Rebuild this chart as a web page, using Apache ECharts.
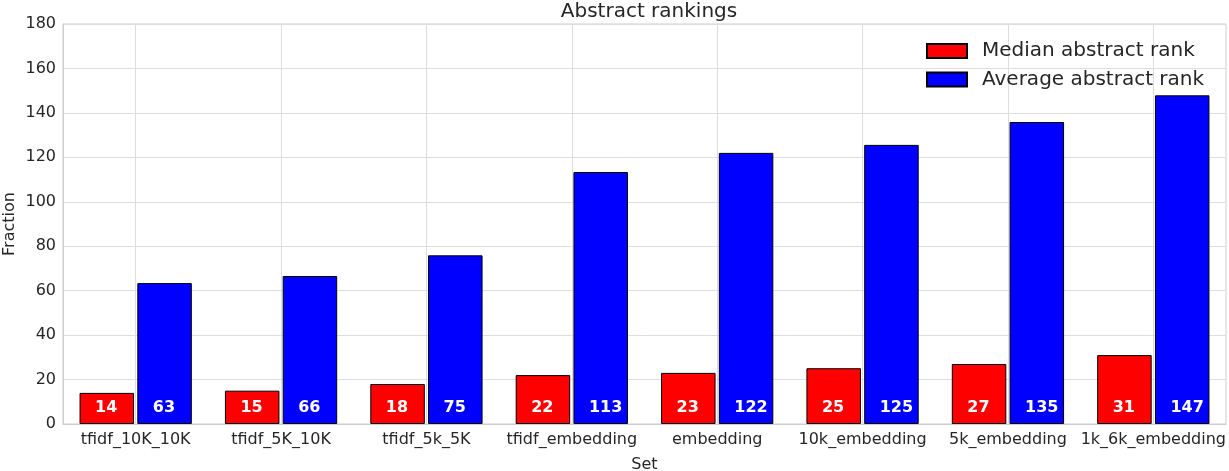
<!DOCTYPE html>
<html>
<head>
<meta charset="utf-8">
<script src="https://cdn.jsdelivr.net/npm/echarts@6/dist/echarts.min.js"></script>
<style>
  html, body { margin: 0; padding: 0; background: #fff; }
  #chart { width: 1229px; height: 471px; }
</style>
</head>
<body>
<div id="chart"></div>
<script>
const categories = ['tfidf_10K_10K', 'tfidf_5K_10K', 'tfidf_5k_5K', 'tfidf_embedding', 'embedding', '10k_embedding', '5k_embedding', '1k_6k_embedding']
const medianRank = [14, 15, 18, 22, 23, 25.1, 27, 31]
const averageRank = [63.4, 66.6, 75.9, 113.4, 122, 125.6, 135.9, 147.9]

const font = 'DejaVu Sans'
const textColor = '#262626'

const barLabel = {
  show: true,
  position: 'insideBottomLeft',
  distance: 8,
  offset: [7.5, 0],
  color: '#fff',
  fontFamily: font,
  fontWeight: 'bold',
  fontSize: 16,
  formatter: p => Math.floor(p.value)
}

const chart = echarts.init(document.getElementById('chart'))
chart.setOption({
  animation: false,
  title: {
    text: 'Abstract rankings',
    left: 644,
    textAlign: 'center',
    top: -3,
    textStyle: { fontFamily: font, fontSize: 20, fontWeight: 'normal', color: textColor }
  },
  grid: {
    left: 63,
    right: 3,
    top: 24,
    bottom: 47,
    outerBoundsMode: 'none',
    containLabel: false,
    show: true,
    borderColor: '#cccccc',
    borderWidth: 1
  },
  legend: {
    orient: 'vertical',
    left: 921,
    top: 36,
    icon: 'rect',
    itemWidth: 40,
    itemHeight: 14,
    itemGap: 8.6,
    textStyle: { fontFamily: font, fontSize: 20, color: textColor, padding: [0, 0, 0, 10] }
  },
  xAxis: {
    type: 'category',
    data: categories,
    name: 'Set',
    nameLocation: 'middle',
    nameGap: 33,
    nameMoveOverlap: false,
    nameTextStyle: { fontFamily: font, fontSize: 16, color: textColor },
    axisLine: { lineStyle: { color: '#cccccc' } },
    axisTick: { show: false },
    axisLabel: { interval: 0, fontFamily: font, fontSize: 16, color: textColor, margin: 8 },
    splitLine: { show: true, interval: 0, alignWithLabel: true, lineStyle: { color: '#dddddd' } }
  },
  yAxis: {
    type: 'value',
    min: 0,
    max: 180,
    interval: 20,
    name: 'Fraction',
    nameLocation: 'middle',
    nameGap: 45,
    nameMoveOverlap: false,
    nameTextStyle: { fontFamily: font, fontSize: 16, color: textColor },
    axisLine: { show: true, lineStyle: { color: '#cccccc' } },
    axisTick: { show: false },
    axisLabel: { fontFamily: font, fontSize: 16, color: textColor, margin: 7 },
    splitLine: { lineStyle: { color: '#dddddd' } }
  },
  series: [
    {
      name: 'Median abstract rank',
      type: 'bar',
      data: medianRank,
      barWidth: 54.5,
      barGap: '6%',
      itemStyle: { color: '#ff0000', borderColor: '#000', borderWidth: 1 },
      label: barLabel
    },
    {
      name: 'Average abstract rank',
      type: 'bar',
      data: averageRank,
      barWidth: 54.5,
      barGap: '6%',
      itemStyle: { color: '#0000ff', borderColor: '#000', borderWidth: 1 },
      label: barLabel
    }
  ]
})
</script>
</body>
</html>
